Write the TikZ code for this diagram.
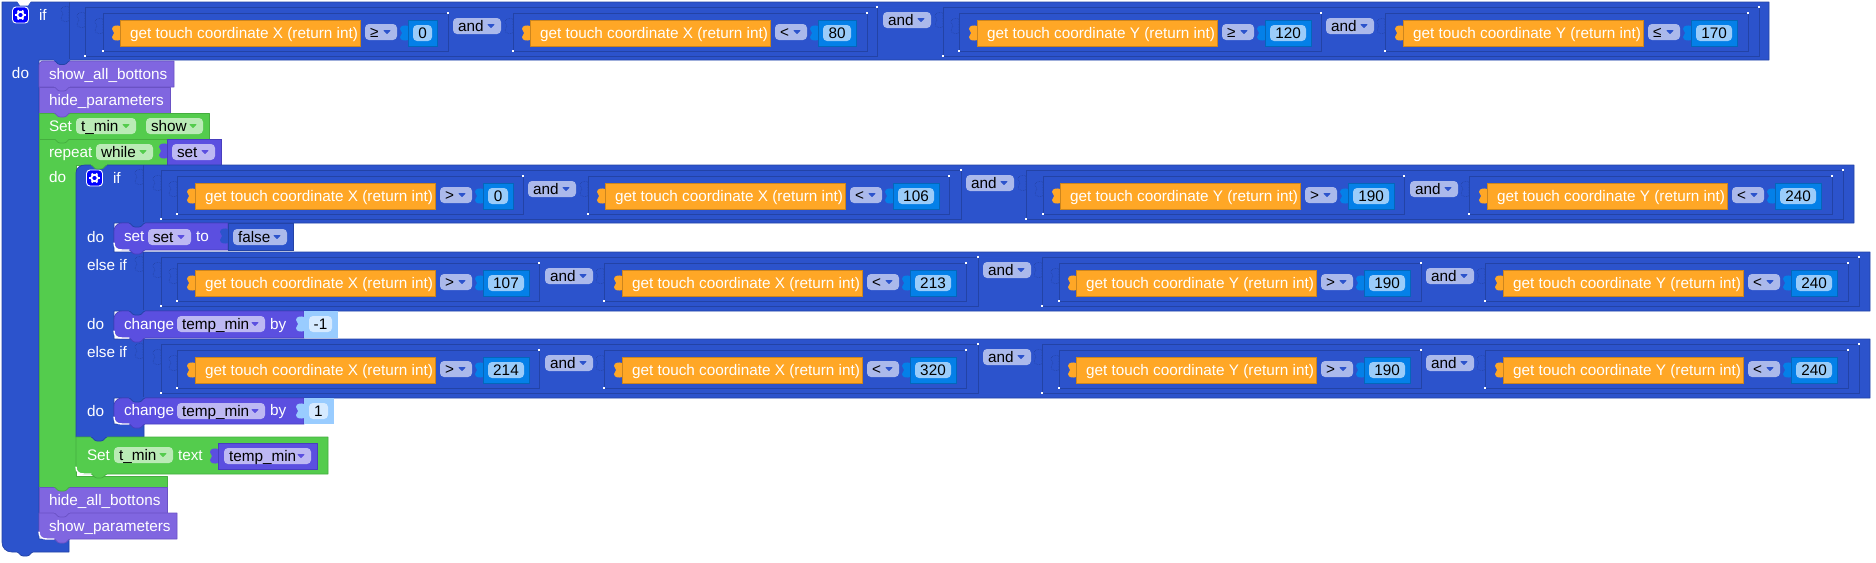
\documentclass[tikz,border=0pt]{standalone}
\usepackage{fontspec}
\setmainfont{Liberation Sans}
\definecolor{ctrl}{HTML}{2C53CC}
\definecolor{ctrlD}{HTML}{2343A6}
\definecolor{ctrlF}{HTML}{ABB9EB}
\definecolor{proc}{HTML}{8066E0}
\definecolor{procD}{HTML}{6A52C4}
\definecolor{vari}{HTML}{5B4FE0}
\definecolor{variD}{HTML}{483EBE}
\definecolor{variF}{HTML}{BDB8F3}
\definecolor{grn}{HTML}{54CC4D}
\definecolor{grnD}{HTML}{45AE3F}
\definecolor{grnF}{HTML}{BAEBB6}
\definecolor{ora}{HTML}{FFA726}
\definecolor{oraD}{HTML}{CC851E}
\definecolor{val}{HTML}{0480E8}
\definecolor{valD}{HTML}{0466BA}
\definecolor{valF}{HTML}{9ACCFA}
\definecolor{lit}{HTML}{99CCFF}
\definecolor{litF}{HTML}{D6EAFF}
\tikzset{
  every node/.style={inner sep=0pt,outer sep=0pt},
  tw/.style={text=white,anchor=base west,font=\fontsize{15.3}{18}\selectfont},
  tb/.style={text=black,anchor=base west,font=\fontsize{15.3}{18}\selectfont},
  tc/.style={text=black,anchor=base,font=\fontsize{15.3}{18}\selectfont},
  edge/.style={line width=0.7pt,line join=round},
}
% plain white label on a block
\newcommand\lbl[4]{\node[tw] (#1) at (#2,#3) {#4};}
% rounded dropdown field: name, x1, top, x2, text, fill, arrow colour
\newcommand\drop[7]{%
  \fill[#6,rounded corners=4pt] (#2,#3) rectangle (#4,{#3+16});
  \node[tb] (#1) at ({#2+5},{#3+13}) {#5};
  \fill[#7,line join=round,draw=#7,line width=0.8pt]
    ({#4-13},{#3+6.5}) -- ({#4-7},{#3+6.5}) -- ({#4-10},{#3+9.5}) -- cycle;}
% puzzle tab on a left edge at x, starting at y
\newcommand\puz[3]{\path[#1] (#2,#3) .. controls ({#2-2},{#3-1}) and ({#2-8},{#3-1}) .. ({#2-8},{#3+3})
  .. controls ({#2-8},{#3+5}) and ({#2-6},{#3+5}) .. ({#2-6},{#3+7})
  .. controls ({#2-6},{#3+9}) and ({#2-8},{#3+9}) .. ({#2-8},{#3+11})
  .. controls ({#2-8},{#3+15}) and ({#2-2},{#3+15}) .. (#2,{#3+14}) -- cycle;}
% statement block: x1, y1, x2, y2, colour, border, top radius, bottom radius
\newcommand\stmt[8]{\path[fill=#5,draw=#6,edge] (#1,{#2+#7}) .. controls (#1,{#2+0.45*#7}) and ({#1+0.45*#7},#2) .. ({#1+#7},#2)
  -- (#3,#2) -- (#3,#4) -- ({#1+#8},#4) .. controls ({#1+0.45*#8},#4) and (#1,{#4-0.45*#8}) .. (#1,{#4-#8}) -- cycle;}
% connection tab below a block
\newcommand\tabd[4]{\path[fill=#3,draw=#4,edge] ({#1+15},#2) .. controls ({#1+17},#2) and ({#1+18},{#2+4}) .. ({#1+21},{#2+4})
  -- ({#1+25},{#2+4}) .. controls ({#1+28},{#2+4}) and ({#1+29},#2) .. ({#1+31},#2);
  \fill[#3] ({#1+15},{#2-1.5}) rectangle ({#1+31},{#2+0.2});}
% white sliver under the last block of a stack
\newcommand\lip[2]{\draw[white,line width=1.4pt,line cap=round] (#1,{#2-7}) .. controls (#1,{#2-2}) and ({#1+3},#2) .. ({#1+8},#2) -- ({#1+15},#2);}
% nested input frames
\newcommand\frm[4]{%
  \draw[ctrlD,line width=0.8pt] (#1,#3) rectangle (#2,#4);
  \puz{fill=ctrl,draw=ctrlD,line width=0.6pt,densely dotted}{#1}{#3+6}
  \fill[white] ({#1-0.6},{#4-0.6}) rectangle ({#1+0.6},{#4+0.6});
  \fill[white] ({#2-0.6},{#3-0.6}) rectangle ({#2+0.6},{#3+0.6});}
\newcommand\outerf[3]{\frm{#1}{#2}{#3+5}{#3+54}}
\newcommand\innerf[3]{\frm{#1}{#2}{#3+11}{#3+49}}
% vertical seam between a label and its input
\newcommand\seam[3]{%
  \draw[ctrlD,line width=0.8pt] (#1,#2) -- (#1,#3);
  \puz{fill=ctrl,draw=ctrlD,line width=0.6pt,densely dotted}{#1}{#2+5}}
% touch comparison: name, x, row top, axis, operator, value, value block width
\newcommand\cmp[7]{%
  \puz{fill=ora}{#2}{#3+24}
  \path[fill=ora,draw=oraD,line width=0.6pt] (#2,{#3+18}) rectangle ({#2+240},{#3+44});
  \node[tw] (#1t) at ({#2+10},{#3+36}) {get touch coordinate #4 (return int)};
  \drop{#1o}{#2+5+240}{#3+22}{#2+37+240}{#5}{ctrlF}{ctrl}
  \puz{fill=val}{#2+288}{#3+24}
  \path[fill=val,draw=valD,line width=0.5pt] ({#2+288},{#3+18}) rectangle ({#2+288+#7},{#3+44});
  \fill[valF,rounded corners=4pt] ({#2+293},{#3+23}) rectangle ({#2+288+#7-5},{#3+39});
  \node[tc] (#1v) at ({#2+288+#7/2},{#3+36}) {#6};}
\newcommand\andf[3]{\drop{#1}{#2}{#3}{#2+48}{and}{ctrlF}{ctrl}}
% settings gear button
\newcommand\gear[2]{%
  \path[fill=blue,draw=white,line width=0.9pt,rounded corners=3.5pt] ({#1-8},{#2-8}) rectangle ({#1+8},{#2+8});
  \foreach \a in {0,60,...,300}{\draw[white,line width=2pt] (#1,#2) ++(\a:3) -- ++(\a:2.2);}
  \draw[white,line width=1.8pt] (#1,#2) circle[radius=3.2];}
\begin{document}
\begin{tikzpicture}[x=1pt,y=-1pt]
\useasboundingbox (0,0) rectangle (1876,562);
\fill[white] (0,0) rectangle (1876,562);

% outer if block
\path[fill=ctrl,draw=ctrlD,edge] (2,2) -- (1769,2) -- (1769,60) -- (39,60) -- (39,539) -- (69,539) -- (69,552)
  -- (12,552) .. controls (6,552) and (2,548) .. (2,542) -- cycle;
\seam{69}{2}{60}
\outerf{85}{877}{2}\outerf{943}{1759}{2}
\innerf{103}{448}{2}\innerf{513}{867}{2}\innerf{959}{1321}{2}\innerf{1385}{1748}{2}
\cmp{aa}{120}{2}{X}{≥}{0}{29}
\cmp{ab}{530}{2}{X}{<}{80}{38}
\cmp{ac}{977}{2}{Y}{≥}{120}{46}
\cmp{ad}{1403}{2}{Y}{≤}{170}{46}
\andf{aand1}{453}{18}\andf{aand2}{883}{12}\andf{aand3}{1326}{18}
\gear{20.5}{15}
\lbl{ifa}{39}{20}{if}
\lbl{doa}{12}{78}{do}

% statements of the outer body
\stmt{39}{61}{174}{87}{proc}{procD}{4}{0}
\lbl{showall}{49}{79}{show\_all\_bottons}
\stmt{39}{87}{170}{113}{proc}{procD}{0}{0}
\lbl{hidepar}{49}{105}{hide\_parameters}
\stmt{39}{113}{209}{139}{grn}{grnD}{0}{0}
\lbl{setshow}{49}{131}{Set}
\drop{tmina}{76}{118}{136}{t\_min}{grnF}{grn}
\drop{showf}{146}{118}{203}{show}{grnF}{grn}

% repeat while block
\path[fill=grn,draw=grnD,edge] (39,139) -- (167,139) -- (167,165) -- (76,165) -- (76,476) -- (167,476) -- (167,487) -- (39,487) -- cycle;
\lbl{rep}{49}{157}{repeat}
\drop{whilef}{96}{144}{153}{while}{grnF}{grn}
\puz{fill=vari}{167}{144}
\path[fill=vari,draw=variD,line width=0.6pt] (167,139) rectangle (221,165);
\drop{setvar}{172}{144}{215}{set}{variF}{vari}
\lbl{dob}{49}{182}{do}

% inner if / else if chain
\path[fill=ctrl,draw=ctrlD,edge] (76,173) .. controls (76,168) and (80,165) .. (85,165) -- (1854,165) -- (1854,223) -- (114,223) -- (114,252)
  -- (1870,252) -- (1870,311) -- (114,311) -- (114,339) -- (1870,339) -- (1870,398) -- (114,398) -- (114,424)
  -- (144,424) -- (144,437) -- (76,437) -- cycle;
\seam{143}{165}{223}\seam{143}{252}{311}\seam{143}{339}{398}
\outerf{161}{961}{165}\outerf{1026}{1843}{165}
\innerf{177}{523}{165}\innerf{588}{949}{165}\innerf{1043}{1404}{165}\innerf{1469}{1832}{165}
\cmp{ba}{195}{165}{X}{>}{0}{30}
\cmp{bb}{605}{165}{X}{<}{106}{46}
\cmp{bc}{1060}{165}{Y}{>}{190}{46}
\cmp{bd}{1487}{165}{Y}{<}{240}{46}
\andf{band1}{528}{181}\andf{band2}{966}{175}\andf{band3}{1410}{181}
\gear{94.5}{178}
\lbl{ifb}{113}{183}{if}
\lbl{doc}{87}{242}{do}

\outerf{161}{978}{252}\outerf{1042}{1859}{252}
\innerf{177}{539}{252}\innerf{604}{966}{252}\innerf{1059}{1421}{252}\innerf{1485}{1848}{252}
\cmp{ca}{195}{252}{X}{>}{107}{46}
\cmp{cb}{622}{252}{X}{<}{213}{46}
\cmp{cc}{1076}{252}{Y}{>}{190}{46}
\cmp{cd}{1503}{252}{Y}{<}{240}{46}
\andf{cand1}{545}{268}\andf{cand2}{983}{262}\andf{cand3}{1426}{268}
\lbl{elifa}{87}{270}{else if}
\lbl{dod}{87}{329}{do}

\outerf{161}{978}{339}\outerf{1042}{1859}{339}
\innerf{177}{539}{339}\innerf{604}{966}{339}\innerf{1059}{1421}{339}\innerf{1485}{1848}{339}
\cmp{da}{195}{339}{X}{>}{214}{46}
\cmp{db}{622}{339}{X}{<}{320}{46}
\cmp{dc}{1076}{339}{Y}{>}{190}{46}
\cmp{dd}{1503}{339}{Y}{<}{240}{46}
\andf{dand1}{545}{355}\andf{dand2}{983}{349}\andf{dand3}{1426}{355}
\lbl{elifb}{87}{357}{else if}
\lbl{doe}{87}{416}{do}

% set set to false
\stmt{114}{223}{228}{250}{vari}{variD}{8}{8}
\lbl{setlbl}{124}{241}{set}
\drop{setf}{148}{229}{191}{set}{variF}{vari}
\lbl{tolbl}{196}{241}{to}
\puz{fill=ctrl}{228}{229}
\path[fill=ctrl,draw=ctrlD,line width=0.6pt] (228,223) rectangle (293,250);
\drop{falsef}{233}{229}{287}{false}{ctrlF}{ctrl}

% change temp_min by -1
\stmt{114}{311}{304}{338}{vari}{variD}{8}{8}
\lbl{chga}{124}{329}{change}
\drop{tempa}{177}{316}{265}{temp\_min}{variF}{vari}
\lbl{bya}{270}{329}{by}
\puz{fill=lit}{304}{317}
\fill[lit] (304,311) rectangle (338,338);
\fill[litF,rounded corners=4pt] (309,316) rectangle (332,332);
\node[tc] (vala) at (320.5,329) {-1};

% change temp_min by 1
\stmt{114}{398}{304}{424}{vari}{variD}{8}{8}
\lbl{chgb}{124}{415}{change}
\drop{tempb}{177}{403}{265}{temp\_min}{variF}{vari}
\lbl{byb}{270}{415}{by}
\puz{fill=lit}{304}{404}
\fill[lit] (304,398) rectangle (334,424);
\fill[litF,rounded corners=4pt] (309,403) rectangle (328,419);
\node[tc] (valb) at (318.5,416) {1};

% Set t_min text temp_min
\stmt{76}{437}{328}{474}{grn}{grnD}{0}{8}
\lbl{settext}{87}{460}{Set}
\drop{tminb}{114}{447}{173}{t\_min}{grnF}{grn}
\lbl{textlbl}{178}{460}{text}
\puz{fill=vari}{218}{449}
\path[fill=vari,draw=variD,line width=0.6pt] (218,443) rectangle (317,469);
\drop{tempc}{224}{448}{311}{temp\_min}{variF}{vari}

% closing statements
\stmt{39}{487}{167}{513}{proc}{procD}{0}{0}
\lbl{hideall}{49}{505}{hide\_all\_bottons}
\stmt{39}{513}{177}{539}{proc}{procD}{0}{6}
\lbl{showpar}{49}{531}{show\_parameters}

% connection tabs and lips, drawn over the blocks they enter
\fill[white] (17,1) -- (31,1) -- (28,5.5) -- (20,5.5) -- cycle;
\tabd{39}{60.5}{ctrl}{ctrlD}
\tabd{39}{87}{proc}{procD}
\tabd{39}{113}{proc}{procD}
\tabd{39}{139}{grn}{grnD}
\tabd{76}{165}{grn}{grnD}
\tabd{114}{223}{ctrl}{ctrlD}
\tabd{114}{250}{vari}{variD}
\tabd{114}{311}{ctrl}{ctrlD}
\tabd{114}{338}{vari}{variD}
\tabd{114}{398}{ctrl}{ctrlD}
\tabd{114}{424}{vari}{variD}
\tabd{76}{437}{ctrl}{ctrlD}
\tabd{76}{474}{grn}{grnD}
\tabd{39}{487}{grn}{grnD}
\tabd{39}{513}{proc}{procD}
\tabd{39}{539}{proc}{procD}
\tabd{2}{552}{ctrl}{ctrlD}
\lip{114}{250}
\lip{114}{338}
\lip{114}{424}
\lip{76}{474}
\lip{39}{539}
\end{tikzpicture}
\end{document}
